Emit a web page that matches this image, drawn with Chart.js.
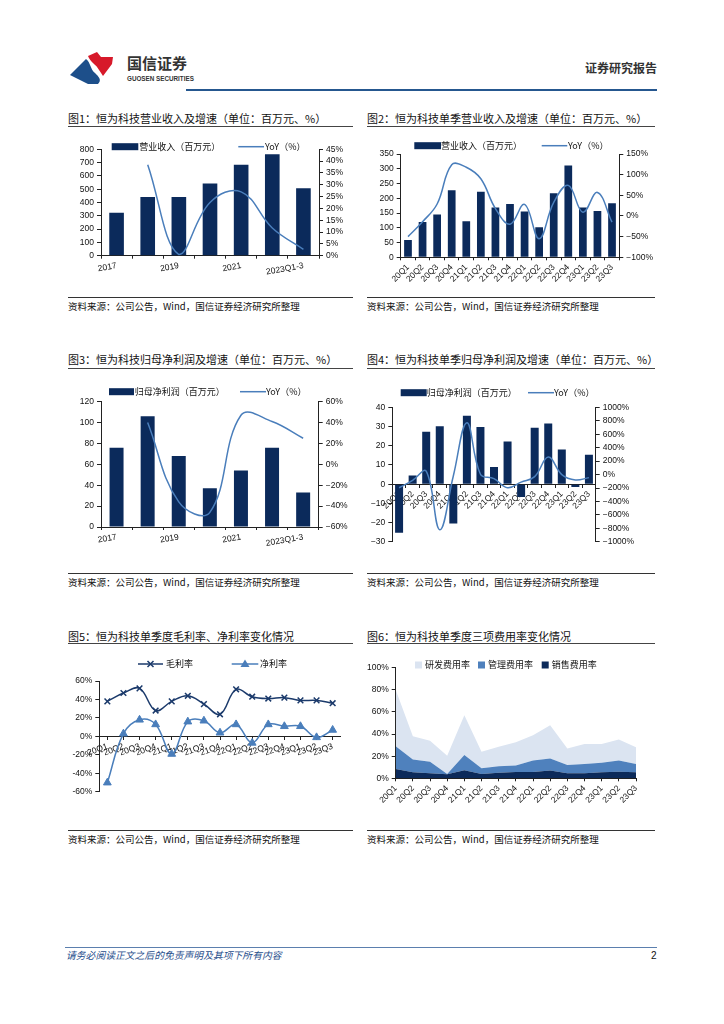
<!DOCTYPE html>
<html>
<head>
<meta charset="utf-8">
<script src="https://cdn.jsdelivr.net/npm/chart.js@4.4.0/dist/chart.umd.min.js"></script>
<style>
  body { margin: 0; background: #fff; width: 724px; height: 1024px; position: relative; overflow: hidden;
         font-family: "Noto Sans CJK SC", sans-serif; }
  .abs { position: absolute; white-space: nowrap; line-height: 1; }
  .title { position: absolute; font-size: 11px; color: #111; white-space: nowrap; line-height: 1; }
  .rule { position: absolute; height: 0; border-top: 1.5px solid #444; }
  .thin { position: absolute; height: 0; border-top: 1px solid #333; }
  .src { position: absolute; font-size: 9.5px; color: #111; white-space: nowrap; line-height: 1; }
  canvas { position: absolute; }
</style>
</head>
<body>

<!-- header -->
<svg class="abs" style="left:66px;top:48px" width="60" height="40">
  <path d="M4,27 L20,11 C25,15 24,21 29,25 C33,29 36,32 32,36 L22,36 Z" fill="#1d4f8a"/>
  <path d="M22,8 L31,4 L35,9 L47,9 L46,16 L37,28 C34,24 32,19 28,16 C25,13 23,11 22,8 Z" fill="#d7192a"/>
</svg>
<div class="abs" style="left:127px;top:55px;font-size:15px;font-weight:700;color:#333">国信证券</div>
<div class="abs" style="left:127px;top:76px;font-size:6.3px;font-weight:700;color:#333;font-family:Arial,'Liberation Sans',sans-serif">GUOSEN SECURITIES</div>
<div class="abs" style="right:67px;top:62px;font-size:12px;font-weight:700;color:#333">证券研究报告</div>
<div class="abs" style="left:186px;top:89px;width:471px;height:2px;background:#25578f"></div>

<!-- titles -->
<div class="title" style="left:68px;top:113px">图1：恒为科技营业收入及增速（单位：百万元、%）</div>
<div class="title" style="left:367px;top:113px">图2：恒为科技单季营业收入及增速（单位：百万元、%）</div>
<div class="rule" style="left:68px;top:126px;width:285px"></div>
<div class="rule" style="left:367px;top:126px;width:288px"></div>

<div class="title" style="left:68px;top:354px">图3：恒为科技归母净利润及增速（单位：百万元、%）</div>
<div class="title" style="left:367px;top:354px">图4：恒为科技单季归母净利润及增速（单位：百万元、%）</div>
<div class="rule" style="left:68px;top:368px;width:285px"></div>
<div class="rule" style="left:367px;top:368px;width:288px"></div>

<div class="title" style="left:68px;top:631px">图5：恒为科技单季度毛利率、净利率变化情况</div>
<div class="title" style="left:367px;top:631px">图6：恒为科技单季度三项费用率变化情况</div>
<div class="rule" style="left:68px;top:643px;width:285px"></div>
<div class="rule" style="left:367px;top:643px;width:288px"></div>

<!-- charts -->
<canvas id="c1" width="294" height="150" style="left:62px;top:135px"></canvas>
<canvas id="c2" width="294" height="155" style="left:362px;top:135px"></canvas>
<canvas id="c3" width="294" height="170" style="left:62px;top:380px"></canvas>
<canvas id="c4" width="294" height="170" style="left:362px;top:380px"></canvas>
<canvas id="c5" width="294" height="145" style="left:62px;top:655px"></canvas>
<canvas id="c6" width="294" height="155" style="left:362px;top:655px"></canvas>

<!-- sources -->
<div class="thin" style="left:68px;top:297px;width:285px"></div>
<div class="thin" style="left:367px;top:297px;width:288px"></div>
<div class="src" style="left:68px;top:302px">资料来源：公司公告，Wind，国信证券经济研究所整理</div>
<div class="src" style="left:367px;top:302px">资料来源：公司公告，Wind，国信证券经济研究所整理</div>

<div class="thin" style="left:68px;top:573px;width:285px"></div>
<div class="thin" style="left:367px;top:573px;width:288px"></div>
<div class="src" style="left:68px;top:578px">资料来源：公司公告，Wind，国信证券经济研究所整理</div>
<div class="src" style="left:367px;top:578px">资料来源：公司公告，Wind，国信证券经济研究所整理</div>

<div class="thin" style="left:68px;top:830px;width:285px"></div>
<div class="thin" style="left:367px;top:830px;width:288px"></div>
<div class="src" style="left:68px;top:835px">资料来源：公司公告，Wind，国信证券经济研究所整理</div>
<div class="src" style="left:367px;top:835px">资料来源：公司公告，Wind，国信证券经济研究所整理</div>

<!-- footer -->
<div class="abs" style="left:65px;top:947px;width:592px;height:1px;background:#5b7fae"></div>
<div class="abs" style="left:66px;top:951px;font-size:9.8px;font-style:italic;color:#1f4e8c">请务必阅读正文之后的免责声明及其项下所有内容</div>
<div class="abs" style="left:651px;top:951px;font-size:10px;color:#111;font-family:Arial,'Liberation Sans',sans-serif">2</div>

<script>
// ---- data ----
const yearLabels = ['2017', '2018', '2019', '2020', '2021', '2022', '2023Q1-3'];
const quarterLabels = ['20Q1', '20Q2', '20Q3', '20Q4', '21Q1', '21Q2', '21Q3', '21Q4',
                       '22Q1', '22Q2', '22Q3', '22Q4', '23Q1', '23Q2', '23Q3'];

// 图1 年度营业收入 (百万元) / YoY (%)
const revenueYear = [322, 441, 441, 542, 683, 763, 507];
const revenueYearYoY = [null, 38.5, 0.5, 22.5, 27, 11.7, 2.7];

// 图2 单季营业收入 / YoY
const revenueQ = [59, 120, 145, 227, 122, 222, 169, 181, 155, 102, 217, 311, 169, 157, 183];
const revenueQYoY = [-50, -14, 29, 124, 118, 90, 18, -20, 28, -55, 33, 74, 9, 57, -15];

// 图3 年度归母净利润 / YoY
const profitYear = [76, 106, 68, 37, 54, 76, 33];
const profitYearYoY = [null, 40, -36, -46, 47, 41, 25];

// 图4 单季归母净利润 / YoY
const profitQ = [-25.2, 4.5, 27.3, 30.2, -20.4, 35.6, 29.8, 8.9, 22.2, -6.6, 29.3, 31.6, 18, -1.4, 15.3];
const profitQYoY = [-195, -85, 50, -820, -20, 770, 5, -60, -195, -112, -30, 260, 0, -80, -45];

// 图5 毛利率 / 净利率 (%)
const grossMargin = [38, 47, 52, 28, 38, 44, 35, 24, 51, 43, 41, 42, 39, 39, 36];
const netMargin = [-50, 3, 18, 13, -19, 16, 17, 4, 13, -7, 13, 11, 11, -1, 7];

// 图6 三项费用率 (%)
const salesRate = [8.4, 5.4, 4.5, 3.6, 7.2, 4, 5, 5.7, 5.7, 7, 4.5, 4.5, 5.5, 6, 5.5];
const adminRate = [20.6, 11.6, 10.5, 0.4, 13.8, 5, 6, 5.8, 10.3, 11, 7.5, 8.5, 8.5, 10, 7.5];
const rdRate = [51, 21, 19, 16.5, 36, 15, 17.6, 21, 23, 30, 15, 18, 17, 19, 15];

// ---- styles ----
const NAVY = '#0b2a5b';
const BLUE = '#4a7ebb';
const AXIS = '#222';
const tickFont = { family: 'Arial, "Liberation Sans", sans-serif', size: 8.5 };

const minus = v => (v < 0 ? '−' : '') + Math.abs(v);
const minusPct = v => minus(v) + '%';

function yAxis(pos, min, max, step, fmt, width) {
  return {
    position: pos, min: min, max: max,
    ticks: { stepSize: step, callback: fmt, font: tickFont, color: '#111', padding: 3, autoSkip: false },
    grid: { drawOnChartArea: false, tickLength: 4, color: AXIS },
    border: { color: AXIS },
    afterFit: s => { s.width = width; }
  };
}

function xAxis(labels, rot, height, extra) {
  return Object.assign({
    ticks: {
      font: tickFont, color: '#111', autoSkip: false,
      minRotation: rot, maxRotation: rot, padding: 2
    },
    grid: { drawOnChartArea: false, tickLength: 3, color: AXIS },
    border: { color: AXIS },
    afterFit: s => { s.height = height; }
  }, extra || {});
}

// legend drawn on the canvas at fixed spots
function legend(y, items) {
  return {
    id: 'pageLegend',
    afterDraw(chart) {
      const ctx = chart.ctx;
      ctx.save();
      ctx.font = '9px "Noto Sans CJK SC", sans-serif';
      ctx.textBaseline = 'middle';
      items.forEach(it => {
        ctx.fillStyle = it.color;
        ctx.strokeStyle = it.color;
        if (it.kind === 'box') ctx.fillRect(it.x, y - 3.5, it.w, 7);
        if (it.kind === 'square') ctx.fillRect(it.x, y - 3.5, 7, 7);
        if (it.kind === 'line' || it.kind === 'marker') {
          ctx.lineWidth = 1.5;
          ctx.beginPath(); ctx.moveTo(it.x, y); ctx.lineTo(it.x + it.w, y); ctx.stroke();
        }
        if (it.kind === 'marker') {
          const cx = it.x + it.w / 2;
          ctx.beginPath();
          if (it.point === 'crossRot') {
            ctx.moveTo(cx - 3, y - 3); ctx.lineTo(cx + 3, y + 3);
            ctx.moveTo(cx + 3, y - 3); ctx.lineTo(cx - 3, y + 3);
            ctx.stroke();
          } else {
            ctx.moveTo(cx, y - 4.5); ctx.lineTo(cx + 4.5, y + 3); ctx.lineTo(cx - 4.5, y + 3);
            ctx.closePath(); ctx.fill();
          }
        }
        ctx.fillStyle = '#111';
        ctx.fillText(it.text, it.tx, y);
      });
      ctx.restore();
    }
  };
}

const baseOpts = (top, right) => ({
  responsive: false,
  animation: false,
  layout: { padding: { top: top, right: right || 0, left: 0, bottom: 0 } },
  plugins: { legend: { display: false }, tooltip: { enabled: false } }
});

function barLineChart(id, labels, bars, yoy, cfg) {
  const opts = baseOpts(cfg.top);
  opts.scales = {
    x: xAxis(labels, cfg.rot, cfg.xh, cfg.xExtra),
    y: yAxis('left', cfg.yl[0], cfg.yl[1], cfg.yl[2], minus, cfg.lw),
    y1: yAxis('right', cfg.yr[0], cfg.yr[1], cfg.yr[2], minusPct, cfg.rw)
  };
  if (cfg.skip) opts.scales.x.ticks.callback = (v, i) => (i % 2 ? '' : labels[i]);
  return new Chart(document.getElementById(id), {
    type: 'bar',
    data: {
      labels: labels,
      datasets: [
        { type: 'line', data: yoy, yAxisID: 'y1', borderColor: BLUE, borderWidth: 1.5,
          pointRadius: 0, tension: 0.4, order: 0 },
        { type: 'bar', data: bars, yAxisID: 'y', backgroundColor: NAVY,
          categoryPercentage: 1, barPercentage: cfg.bp, order: 1 }
      ]
    },
    options: opts,
    plugins: [legend(cfg.legendY, cfg.legend)]
  });
}

// 图1
barLineChart('c1', yearLabels, revenueYear, revenueYearYoY, {
  top: 14.3, rot: 10, xh: 29.3, lw: 39, rw: 37, bp: 0.47, skip: true,
  yl: [0, 800, 100], yr: [0, 45, 5], legendY: 11.7,
  legend: [
    { kind: 'box', x: 49.7, w: 26.6, color: NAVY, text: '营业收入（百万元）', tx: 77.3 },
    { kind: 'line', x: 176.3, w: 25.7, color: BLUE, text: 'YoY（%）', tx: 203 }
  ]
});

// 图2
barLineChart('c2', quarterLabels, revenueQ, revenueQYoY, {
  top: 19, rot: 45, xh: 32.7, lw: 38.7, rw: 36.7, bp: 0.53,
  yl: [0, 350, 50], yr: [-100, 150, 50], legendY: 10.7,
  legend: [
    { kind: 'box', x: 52.3, w: 26.7, color: NAVY, text: '营业收入（百万元）', tx: 79 },
    { kind: 'line', x: 179.7, w: 25.6, color: BLUE, text: 'YoY（%）', tx: 206 }
  ]
});

// 图3
barLineChart('c3', yearLabels, profitYear, profitYearYoY, {
  top: 21.7, rot: 10, xh: 23, lw: 39, rw: 37.3, bp: 0.45, skip: true,
  yl: [0, 120, 20], yr: [-60, 60, 20], legendY: 11.7,
  legend: [
    { kind: 'box', x: 47, w: 25, color: NAVY, text: '归母净利润（百万元）', tx: 72.7 },
    { kind: 'line', x: 178, w: 26, color: BLUE, text: 'YoY（%）', tx: 204 }
  ]
});

// 图4
barLineChart('c4', quarterLabels, profitQ, profitQYoY, {
  top: 27.3, rot: 45, xh: 21, lw: 30.3, rw: 60.3, bp: 0.59,
  xExtra: { position: { y: 0 } },
  yl: [-30, 40, 10], yr: [-1000, 1000, 200], legendY: 12.7,
  legend: [
    { kind: 'box', x: 38.7, w: 26, color: NAVY, text: '归母净利润（百万元）', tx: 64.7 },
    { kind: 'line', x: 166, w: 26, color: BLUE, text: 'YoY（%）', tx: 192 }
  ]
});

// 图5
(function () {
  const opts = baseOpts(26, 15.3);
  opts.scales = {
    x: xAxis(quarterLabels, 20, 9, { position: { y: 0 }, offset: true }),
    y: yAxis('left', -60, 60, 20, v => v + '%', 37.3)
  };
  new Chart(document.getElementById('c5'), {
    type: 'line',
    data: {
      labels: quarterLabels,
      datasets: [
        { label: '毛利率', data: grossMargin, borderColor: '#1b3a6b', backgroundColor: '#1b3a6b',
          borderWidth: 1.5, tension: 0.4, pointStyle: 'crossRot', pointRadius: 4, pointBorderWidth: 1.5 },
        { label: '净利率', data: netMargin, borderColor: BLUE, backgroundColor: BLUE,
          borderWidth: 1.5, tension: 0.4, pointStyle: 'triangle', pointRadius: 4.5, pointBorderWidth: 1 }
      ]
    },
    options: opts,
    plugins: [legend(9, [
      { kind: 'marker', point: 'crossRot', x: 76, w: 25, color: '#1b3a6b', text: '毛利率', tx: 104 },
      { kind: 'marker', point: 'triangle', x: 169.7, w: 26.6, color: BLUE, text: '净利率', tx: 198 }
    ])]
  });
})();

// 图6
(function () {
  const opts = baseOpts(12.7, 20);
  opts.scales = {
    x: xAxis(quarterLabels, 45, 31.7, { offset: false }),
    y: Object.assign(yAxis('left', 0, 100, 20, v => v + '%', 33.7), { stacked: true })
  };
  const area = (label, data, color, fill) => ({
    label: label, data: data, backgroundColor: color, borderWidth: 0,
    pointRadius: 0, tension: 0, fill: fill
  });
  new Chart(document.getElementById('c6'), {
    type: 'line',
    data: {
      labels: quarterLabels,
      datasets: [
        area('销售费用率', salesRate, '#0c2a5a', 'origin'),
        area('管理费用率', adminRate, '#4f81bd', '-1'),
        area('研发费用率', rdRate, '#dbe4f1', '-1')
      ]
    },
    options: opts,
    plugins: [legend(10, [
      { kind: 'square', x: 53, color: '#dbe4f1', text: '研发费用率', tx: 63 },
      { kind: 'square', x: 116, color: '#4f81bd', text: '管理费用率', tx: 126 },
      { kind: 'square', x: 179.7, color: '#0c2a5a', text: '销售费用率', tx: 189.7 }
    ])]
  });
})();
</script>
</body>
</html>
